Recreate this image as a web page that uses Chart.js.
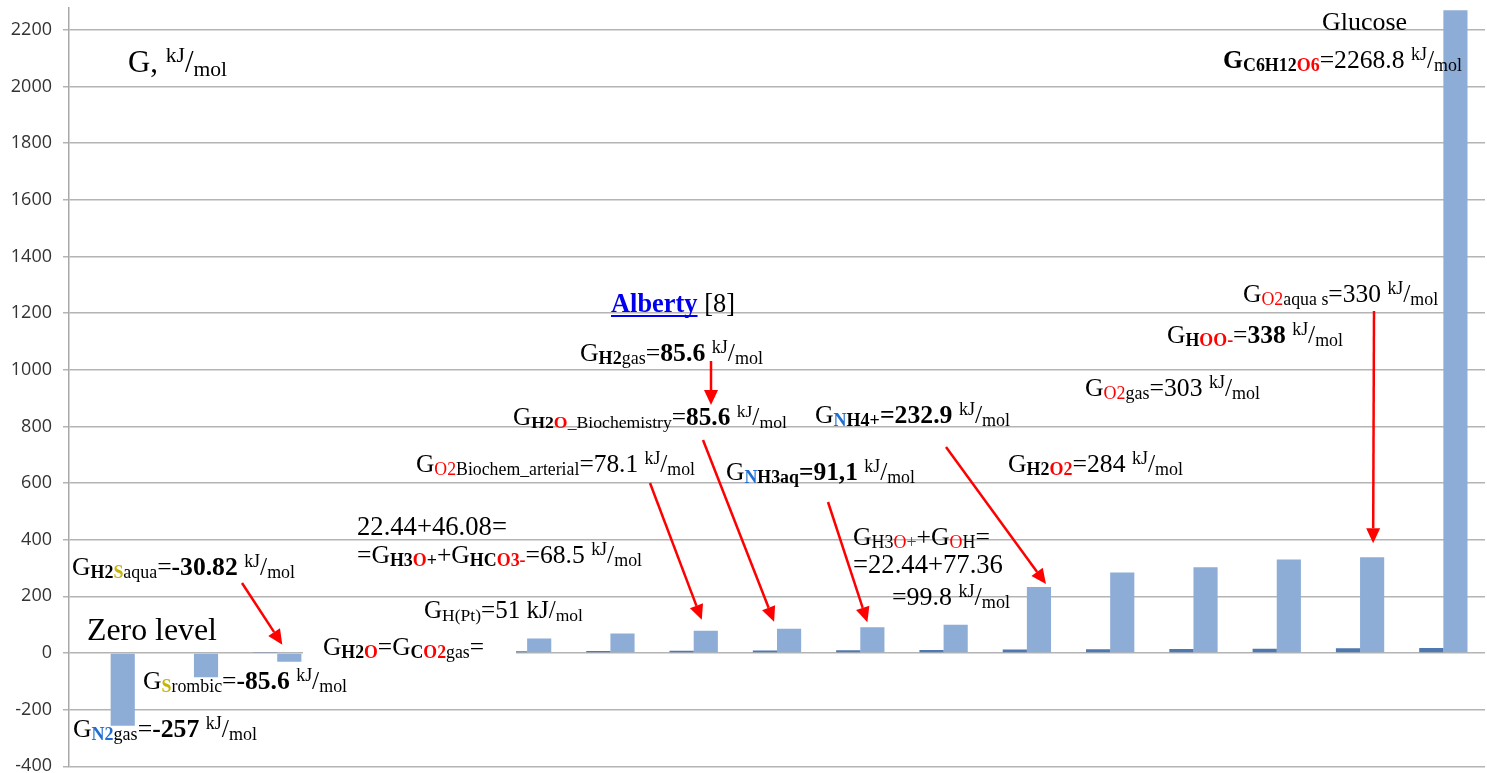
<!DOCTYPE html>
<html><head><meta charset="utf-8">
<script src="https://cdn.jsdelivr.net/npm/chart.js@4.4.0/dist/chart.umd.min.js"></script>
<style>html,body{margin:0;padding:0;background:#fff;overflow:hidden}#wrap{width:1487px;height:773px}</style>
</head><body><div id="wrap"><canvas id="c" width="1487" height="773"></canvas></div>
<script>
// ---------- DATA ----------
const categories = ['N2 gas','S rombic','H2S aqua','H2O','CO2 gas','H(Pt)','H3O+ + HCO3-','O2 Biochem arterial','H2O Biochemistry','NH3 aq','H3O+ + OH-','NH4+','H2O2','O2 gas','O2 aqua s','HOO-','C6H12O6'];
const gibbsMain  = [-257, -85.6, -30.82, 0, 0, 51, 68.5, 78.1, 85.6, 91.1, 99.8, 232.9, 284, 303, 330, 338, 2268.8];
const gibbsSmall = [0, 0, 2, 3, 4, 6, 7, 8, 9, 10, 11, 12, 13, 14, 15, 17, 18];
const yMin = -400, yMax = 2277, yStep = 200;

// ---------- STYLE ----------
const RED = '#ff0000', NB = '#1f6fd2', YEL = '#c8b400', LINK = '#0000ee';
const SERIF = '"Liberation Serif", "Times New Roman", serif';

const n = t => ({t});
const b = t => ({t, b:1});
const s = (t,c) => ({t, v:'sub', c});
const sb = (t,c) => ({t, v:'sub', b:1, c});
const KJ = [n(' '), {t:'kJ', v:'sup'}, n('/'), s('mol')];

const notes = [
 {x0:1322,x1:1407,y:30, segs:[n('Glucose')]},
 {x0:1223,x1:1462,y:68, segs:[b('G'), sb('C6H12'), sb('O6',RED), n('=2268.8'), ...KJ]},
 {x0:611,x1:735,y:312, segs:[{t:'Alberty',b:1,c:LINK,u:1}, n(' [8]')]},
 {x0:580,x1:763,y:361, segs:[n('G'), sb('H2'), s('gas'), n('='), b('85.6'), ...KJ]},
 {x0:513,x1:787,y:425, segs:[n('G'), sb('H2'), sb('O',RED), s('_Biochemistry'), n('='), b('85.6'), ...KJ]},
 {x0:416,x1:695,y:472, segs:[n('G'), s('O2',RED), s('Biochem_arterial'), n('=78.1'), ...KJ]},
 {x0:726,x1:915,y:480, segs:[n('G'), sb('N',NB), sb('H3aq'), b('=91,1'), ...KJ]},
 {x0:815,x1:1010,y:423, segs:[n('G'), sb('N',NB), sb('H4+'), b('=232.9'), ...KJ]},
 {x0:1085,x1:1260,y:396, segs:[n('G'), s('O2',RED), s('gas'), n('=303'), ...KJ]},
 {x0:1008,x1:1183,y:472, segs:[n('G'), sb('H2'), sb('O2',RED), n('=284'), ...KJ]},
 {x0:1167,x1:1343,y:343, segs:[n('G'), sb('H'), sb('OO-',RED), n('='), b('338'), ...KJ]},
 {x0:1243,x1:1438,y:302, segs:[n('G'), s('O2',RED), s('aqua s'), n('=330'), ...KJ]},
 {x0:357,x1:507,y:535, segs:[n('22.44+46.08=')]},
 {x0:357,x1:642,y:563, segs:[n('=G'), sb('H3'), sb('O',RED), sb('+'), n('+G'), sb('HC'), sb('O3-',RED), n('=68.5'), ...KJ]},
 {x0:424,x1:583,y:618, segs:[n('G'), s('H(Pt)'), n('=51 kJ/'), s('mol')]},
 {x0:323,x1:484,y:655, segs:[n('G'), sb('H2'), sb('O',RED), n('=G'), sb('C'), sb('O2',RED), s('gas'), n('=')], bg:[303,630,213,38]},
 {x0:853,x1:990,y:545, segs:[n('G'), s('H3'), s('O+',RED), n('+G'), s('O',RED), s('H'), n('=')]},
 {x0:853,x1:1003,y:573, segs:[n('=22.44+77.36')]},
 {x0:892,x1:1010,y:605, segs:[n('=99.8'), ...KJ]},
 {x0:72,x1:295,y:575, segs:[n('G'), sb('H2'), sb('S',YEL), s('aqua'), n('='), b('-30.82'), ...KJ]},
 {x0:87,x1:217,y:640, segs:[n('Zero level')]},
 {x0:143,x1:347,y:689, segs:[n('G'), sb('S',YEL), s('rombic'), n('='), b('-85.6'), ...KJ]},
 {x0:73,x1:257,y:737, segs:[n('G'), sb('N2',NB), s('gas'), n('='), b('-257'), ...KJ]},
 {x0:128,x1:227,y:72, segs:[n('G, '), {t:'kJ',v:'sup'}, n('/'), s('mol')]}
];

const arrows = [
 {from:[242,583], bar:2, dx:-7, dy:-9},
 {from:[650,483], bar:7, dx:-4, dy:-11},
 {from:[703,440], bar:8, dx:-15, dy:-7},
 {from:[828,502], bar:9, dx:-5, dy:-5},
 {from:[946,447], bar:11, dx:7, dy:-3},
 {from:[1374,311], bar:15, dx:1, dy:-14},
 {from:[711,361], to:[711,405]}
];

function fontOf(sg, base){
  const sz = base * (sg.v ? 0.7 : 1);
  return (sg.b ? 'bold ' : '') + sz.toFixed(2) + 'px ' + SERIF;
}
function drawRich(ctx, note){
  const base0 = 24;
  let w = 0;
  for (const sg of note.segs){ ctx.font = fontOf(sg, base0); w += ctx.measureText(sg.t).width; }
  const base = base0 * (note.x1 - note.x0) / w;
  let x = note.x0;
  ctx.textBaseline = 'alphabetic'; ctx.textAlign = 'left';
  for (const sg of note.segs){
    ctx.font = fontOf(sg, base);
    const dy = sg.v === 'sub' ? base*0.12 : (sg.v === 'sup' ? -base*0.32 : 0);
    ctx.fillStyle = sg.c || '#000';
    ctx.fillText(sg.t, x, note.y + dy);
    const tw = ctx.measureText(sg.t).width;
    if (sg.u){ ctx.fillRect(x, note.y + 3, tw, 2); }
    x += tw;
  }
}
function drawArrow(ctx, x0, y0, x1, y1){
  const ang = Math.atan2(y1-y0, x1-x0), L = 15, H = 7;
  const bx = x1 - L*Math.cos(ang), by = y1 - L*Math.sin(ang);
  ctx.strokeStyle = RED; ctx.fillStyle = RED; ctx.lineWidth = 2.5;
  ctx.beginPath(); ctx.moveTo(x0,y0); ctx.lineTo(bx,by); ctx.stroke();
  ctx.beginPath();
  ctx.moveTo(x1,y1);
  ctx.lineTo(bx + H*Math.sin(ang), by - H*Math.cos(ang));
  ctx.lineTo(bx - H*Math.sin(ang), by + H*Math.cos(ang));
  ctx.closePath(); ctx.fill();
}

const annot = {
  id:'annot',
  afterDraw(chart){
    const ctx = chart.ctx;
    ctx.save();
    for (const nt of notes){ if (nt.bg){ ctx.fillStyle='#fff'; ctx.fillRect(...nt.bg); } }
    for (const nt of notes) drawRich(ctx, nt);
    const meta = chart.getDatasetMeta(1);
    for (const a of arrows){
      let tx, ty;
      if (a.to){ [tx,ty] = a.to; }
      else { const el = meta.data[a.bar]; tx = el.x + a.dx; ty = Math.min(el.y, el.base) + a.dy; }
      drawArrow(ctx, a.from[0], a.from[1], tx, ty);
    }
    ctx.restore();
  }
};

new Chart(document.getElementById('c'), {
  type:'bar',
  data:{
    labels: categories,
    datasets:[
      {label:'small', data:gibbsSmall, backgroundColor:'#4e78b0', barPercentage:1, categoryPercentage:0.58},
      {label:'G', data:gibbsMain, backgroundColor:'#8dadd6', barPercentage:1, categoryPercentage:0.58}
    ]
  },
  options:{
    responsive:false, animation:false, devicePixelRatio:1,
    layout:{padding:{top:8, bottom:6.7, left:0, right:2}},
    plugins:{legend:{display:false}, tooltip:{enabled:false}},
    scales:{
      x:{display:false},
      y:{
        min:yMin, max:yMax,
        afterFit(sc){ sc.width = 69; sc.paddingTop = 0; sc.paddingBottom = 0; },
        ticks:{stepSize:yStep, includeBounds:false, padding:11, color:'#333',
               callback:v => String(v),
               font:{family:'"Open Sans", sans-serif', size:18}},
        grid:{color:'#b4b4b4', lineWidth:1.5, drawTicks:true, tickLength:6, tickColor:'#b4b4b4'},
        border:{display:true, color:'#a8a8a8', width:1.5}
      }
    }
  },
  plugins:[annot]
});
</script></body></html>
